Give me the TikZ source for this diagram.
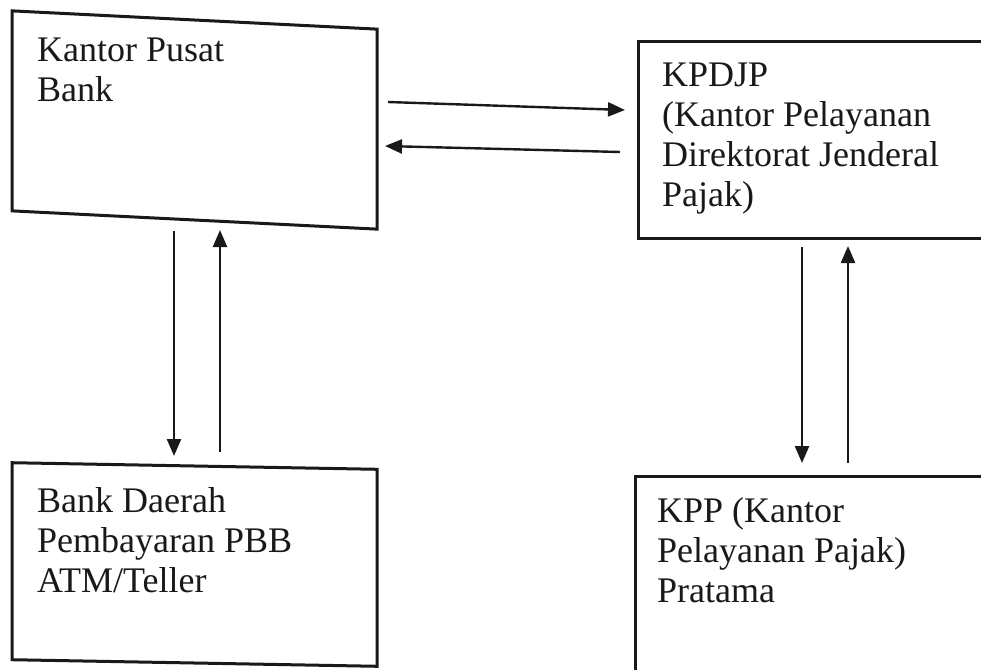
\documentclass[tikz,border=0pt]{standalone}
\usepackage{fontspec}
\setmainfont{Liberation Serif}
\usetikzlibrary{arrows.meta}
\definecolor{ink}{RGB}{25,25,25}
\begin{document}
\begin{tikzpicture}[x=1pt,y=-1pt,
  box/.style={draw=ink, line width=3pt, rectangle, inner sep=0pt},
  lbl/.style={anchor=base west, align=left, inner sep=0pt, text=ink, font=\fontsize{36}{40}\selectfont},
  conn/.style={draw=ink, line width=2.4pt, -{Triangle[length=17pt,width=14pt]}}]
\useasboundingbox (0,0) rectangle (981,669);
\fill[white] (0,0) rectangle (981,669);
\begin{scope}
\clip (0,0) rectangle (981,669);
\node[box, minimum width=365pt, minimum height=200pt, yslant=-0.05] (b1) at (194.5,120) {};
\node[box, minimum width=372pt, minimum height=196pt] (b2) at (824,140) {};
\node[box, minimum width=365pt, minimum height=197pt, yslant=-0.018] (b3) at (194.5,564.5) {};
\node[box, minimum width=372pt, minimum height=230pt] (b4) at (821,591) {};
\end{scope}
\node[lbl] (t1) at (37,101) {Kantor Pusat\\Bank};
\node[lbl] (t2) at (662,206) {KPDJP\\(Kantor Pelayanan\\Direktorat Jenderal\\Pajak)};
\node[lbl] (t3) at (37,592) {Bank Daerah\\Pembayaran PBB\\ATM/Teller};
\node[lbl] (t4) at (657,602) {KPP (Kantor\\Pelayanan Pajak)\\Pratama};
\coordinate (h1s) at (388,102); \coordinate (h1e) at (625,110);
\coordinate (h2s) at (620,152); \coordinate (h2e) at (385,146);
\coordinate (v1s) at (174,231); \coordinate (v1e) at (174,456);
\coordinate (v2s) at (220,452); \coordinate (v2e) at (220,230);
\coordinate (v3s) at (802,247); \coordinate (v3e) at (802,463);
\coordinate (v4s) at (848,463); \coordinate (v4e) at (848,246);
\draw[conn] (h1s) -- (h1e);
\draw[conn] (h2s) -- (h2e);
\draw[conn] (v1s) -- (v1e);
\draw[conn] (v2s) -- (v2e);
\draw[conn] (v3s) -- (v3e);
\draw[conn] (v4s) -- (v4e);
\end{tikzpicture}
\end{document}
